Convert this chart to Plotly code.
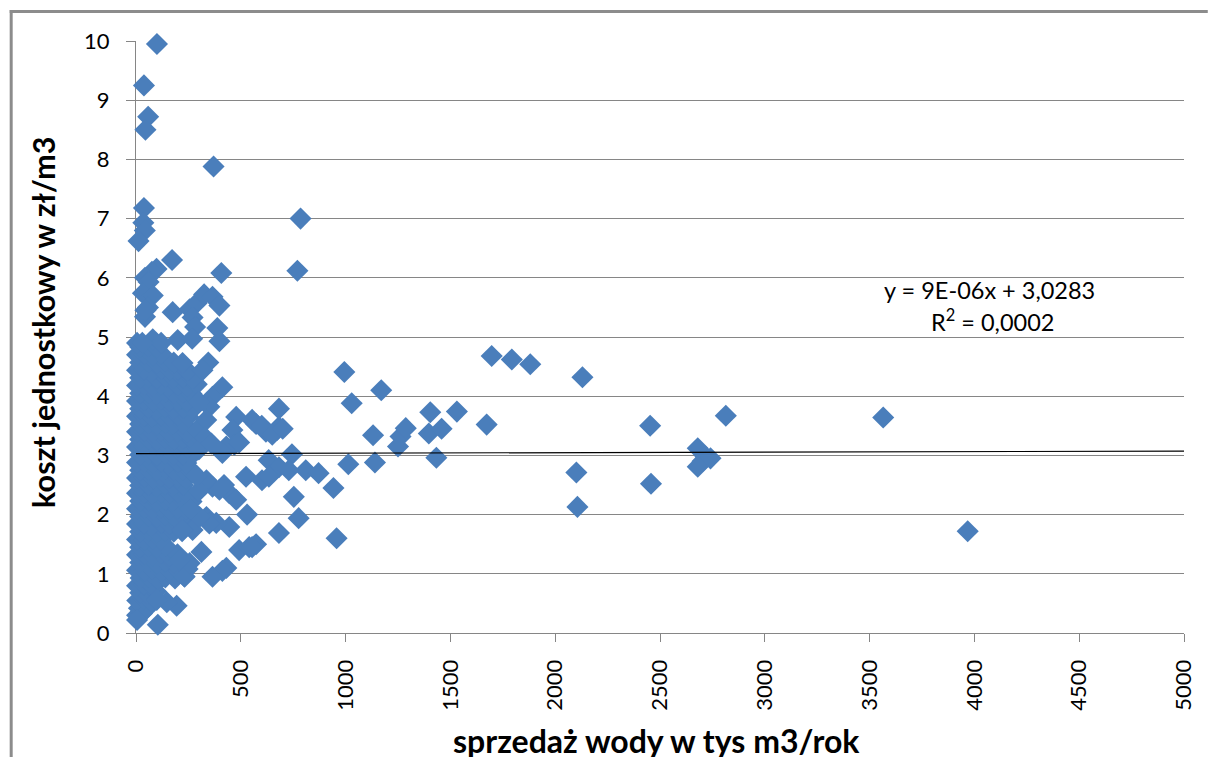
import plotly.graph_objects as go

# ---------------- DATA ----------------
# dense core of the cloud, lower part  (sprzedaż [tys m3/rok], koszt [zł/m3])
punkty_rdzen_dol = [
    (5, 0.30), (28, 0.33), (14, 0.42), (48, 0.40), (6, 0.55), (36, 0.57), (74, 0.53),
    (20, 0.68), (55, 0.66), (96, 0.70), (5, 0.80), (40, 0.82), (82, 0.79),
    (22, 0.93), (60, 0.95), (102, 0.91), (140, 0.94), (186, 0.92), (230, 0.96),
    (5, 1.06), (42, 1.05), (80, 1.08), (122, 1.04), (160, 1.07), (204, 1.05), (246, 1.08),
    (20, 1.19), (62, 1.20), (100, 1.17), (140, 1.21), (182, 1.19), (224, 1.22),
    (5, 1.32), (40, 1.33), (82, 1.31), (120, 1.34), (160, 1.30), (198, 1.33),
    (20, 1.45), (60, 1.46), (100, 1.44), (140, 1.47),
    (5, 1.58), (42, 1.57), (80, 1.59), (120, 1.58),
]
# dense core, middle part
punkty_rdzen_srodek = [
    (20, 1.71), (60, 1.72), (100, 1.70), (140, 1.73), (180, 1.71), (220, 1.72),
    (5, 1.84), (40, 1.85), (80, 1.83), (120, 1.86), (160, 1.84), (200, 1.85), (245, 1.83),
    (20, 1.97), (60, 1.98), (100, 1.96), (140, 1.99), (180, 1.97), (225, 1.98),
    (5, 2.10), (40, 2.11), (80, 2.09), (120, 2.12), (160, 2.10), (200, 2.11), (240, 2.09),
    (20, 2.23), (60, 2.24), (100, 2.22), (140, 2.25), (180, 2.23), (225, 2.24), (265, 2.22),
    (5, 2.36), (40, 2.37), (80, 2.35), (120, 2.38), (160, 2.36), (200, 2.37), (245, 2.35),
    (20, 2.49), (60, 2.50), (100, 2.48), (140, 2.51), (180, 2.49), (225, 2.50),
    (5, 2.62), (40, 2.63), (80, 2.61), (120, 2.64), (160, 2.62), (200, 2.63), (240, 2.61),
    (20, 2.75), (60, 2.76), (100, 2.74), (140, 2.77), (180, 2.75), (225, 2.76), (265, 2.74),
    (5, 2.88), (40, 2.89), (80, 2.87), (120, 2.90), (160, 2.88), (200, 2.89), (240, 2.87),
    (20, 3.01), (60, 3.02), (100, 3.00), (140, 3.03), (180, 3.01), (225, 3.02), (265, 3.00),
]
# dense core, upper part
punkty_rdzen_gora = [
    (5, 3.14), (40, 3.15), (80, 3.13), (120, 3.16), (160, 3.14), (200, 3.15), (245, 3.13), (290, 3.16),
    (20, 3.27), (60, 3.28), (100, 3.26), (140, 3.29), (180, 3.27), (225, 3.28), (270, 3.26), (310, 3.29),
    (5, 3.40), (40, 3.41), (80, 3.39), (120, 3.42), (160, 3.40), (200, 3.41), (245, 3.39), (290, 3.42),
    (20, 3.53), (60, 3.54), (100, 3.52), (140, 3.55), (180, 3.53), (225, 3.54),
    (5, 3.66), (40, 3.67), (80, 3.65), (120, 3.68), (160, 3.66), (200, 3.67), (250, 3.65),
    (20, 3.79), (60, 3.80), (100, 3.78), (140, 3.81), (180, 3.79), (225, 3.80), (270, 3.78),
    (5, 3.92), (40, 3.93), (80, 3.91), (120, 3.94), (160, 3.92), (200, 3.93), (245, 3.91), (290, 3.94),
    (20, 4.05), (60, 4.06), (100, 4.04), (140, 4.07), (180, 4.05), (225, 4.06), (265, 4.04),
    (5, 4.18), (40, 4.19), (80, 4.17), (120, 4.20), (160, 4.18), (200, 4.19), (245, 4.17), (290, 4.20),
    (20, 4.31), (60, 4.32), (100, 4.30), (140, 4.33), (180, 4.31), (225, 4.32), (270, 4.30),
    (5, 4.44), (40, 4.45), (80, 4.43), (120, 4.46), (160, 4.44), (200, 4.45), (245, 4.43),
    (20, 4.57), (60, 4.58), (100, 4.56), (140, 4.59), (180, 4.57),
    (5, 4.70), (40, 4.71), (80, 4.69), (120, 4.72),
    (20, 4.83), (60, 4.84), (100, 4.82),
]
# points scattered around the core (up to ~1000)
punkty_rozproszone = [
    (222, 4.56), (345, 4.57), (317, 4.44), (412, 4.15), (365, 3.99), (350, 3.82), (335, 3.60),
    (300, 3.90), (478, 3.65), (460, 3.43), (554, 3.60), (573, 3.53), (620, 3.40), (682, 3.48),
    (682, 3.79), (673, 3.43), (431, 3.15), (469, 3.18), (412, 3.04), (492, 3.22), (600, 3.50),
    (650, 3.35), (700, 3.45), (633, 2.92), (744, 3.02), (682, 2.80), (810, 2.75), (871, 2.70),
    (525, 2.64), (601, 2.58), (634, 2.64), (729, 2.75), (942, 2.45), (753, 2.30), (776, 1.94),
    (530, 2.00), (445, 1.79), (682, 1.69), (492, 1.40), (540, 1.45), (573, 1.50), (554, 1.45),
    (312, 1.37), (431, 1.10), (412, 1.05), (365, 0.95), (365, 2.47), (445, 2.36), (398, 2.42),
    (336, 2.58), (478, 2.25), (336, 1.96), (270, 1.74), (222, 1.74), (383, 1.86), (350, 1.85),
    (303, 1.96), (232, 0.95), (256, 1.18), (208, 1.23), (194, 0.46), (147, 0.52), (99, 0.56),
    (104, 0.14), (5, 0.22), (300, 2.40), (420, 2.50), (260, 2.10), (290, 2.65), (300, 3.10),
    (330, 3.30), (360, 3.20),
]
# upper tail (high unit costs)
punkty_gorne = [
    (100, 9.95), (38, 9.25), (58, 8.72), (45, 8.50), (38, 7.18), (35, 6.93), (42, 6.80),
    (12, 6.62), (370, 7.88), (785, 7.00), (770, 6.12), (172, 6.30), (407, 6.08), (98, 6.15),
    (76, 6.10), (43, 6.00), (60, 5.93), (33, 5.74), (80, 5.70), (57, 5.50), (43, 5.34),
    (45, 5.45), (175, 5.42), (256, 5.47), (289, 5.57), (325, 5.72), (365, 5.68), (398, 5.53),
    (270, 5.33), (282, 5.17), (388, 5.15), (398, 4.93), (199, 4.95), (268, 4.97), (80, 4.96),
    (5, 4.90), (120, 4.90), (30, 4.90),
]
# large suppliers (far right)
punkty_odlegle = [
    (994, 4.41), (1029, 3.88), (1013, 2.85), (957, 1.60), (1170, 4.10), (1131, 3.34),
    (1140, 2.88), (1250, 3.15), (1262, 3.32), (1287, 3.46), (1404, 3.73), (1397, 3.37),
    (1458, 3.45), (1433, 2.96), (1531, 3.74), (1673, 3.52), (1697, 4.68), (1793, 4.62),
    (1881, 4.54), (2130, 4.32), (2101, 2.71), (2106, 2.13), (2453, 3.50), (2457, 2.52),
    (2680, 3.12), (2703, 2.90), (2717, 2.98), (2741, 2.95), (2680, 2.81), (2814, 3.67),
    (3565, 3.64), (3968, 1.72),
]

# linear trend reported on the chart: y = 9E-06x + 3,0283
trend_nachylenie = 9e-06
trend_wyraz_wolny = 3.0283
trend_x = [0, 5000]

x_ticks = [0, 500, 1000, 1500, 2000, 2500, 3000, 3500, 4000, 4500, 5000]
y_ticks = [0, 1, 2, 3, 4, 5, 6, 7, 8, 9, 10]

tytul_x = "sprzedaż wody w tys m3/rok"
tytul_y = "koszt jednostkowy w zł/m3"
tekst_rownanie = "y = 9E-06x + 3,0283"
tekst_r2 = "R<sup>2</sup> = 0,0002"

# ---------------- FIGURE ----------------
wszystkie = (punkty_rdzen_dol + punkty_rdzen_srodek + punkty_rdzen_gora
             + punkty_rozproszone + punkty_gorne + punkty_odlegle)
xs = [p[0] for p in wszystkie]
ys = [p[1] for p in wszystkie]

W, H = 1208, 757
L, R, T, B = 136, 14, 41, 124
PW, PH = W - L - R, H - T - B


def px_x(px):
    return (px - L) / PW


def px_y(py):
    return (H - B - py) / PH


FONT = "Lato, Calibri, 'Open Sans', sans-serif"
BLUE = "#4A7EBB"
GRAY = "#868686"

fig = go.Figure()
fig.add_trace(go.Scatter(
    x=xs, y=ys, mode="markers",
    marker=dict(symbol="diamond", size=17, color=BLUE, line=dict(width=0)),
    cliponaxis=False, showlegend=False, hoverinfo="x+y",
))
fig.add_trace(go.Scatter(
    x=trend_x, y=[trend_nachylenie * v + trend_wyraz_wolny for v in trend_x],
    mode="lines", line=dict(color="black", width=1.2),
    showlegend=False, hoverinfo="skip",
))

fig.update_layout(
    width=W, height=H, autosize=False,
    margin=dict(l=L, r=R, t=T, b=B, pad=0),
    paper_bgcolor="white", plot_bgcolor="white",
    font=dict(family=FONT, color="black"),
    xaxis=dict(
        range=[0, 5000], tickvals=x_ticks, ticktext=[str(v) for v in x_ticks],
        tickangle=-90, showgrid=False, zeroline=False,
        showline=True, linecolor=GRAY, linewidth=1,
        ticks="outside", ticklen=8, tickcolor=GRAY, tickwidth=1,
        tickfont=dict(family=FONT, size=22, color="black"),
        ticklabelstandoff=9, ticklabeloverflow="allow",
        layer="below traces", fixedrange=True,
    ),
    yaxis=dict(
        range=[0, 10], tickvals=y_ticks, ticktext=[str(v) for v in y_ticks],
        showgrid=True, gridcolor=GRAY, gridwidth=1, zeroline=False,
        showline=True, linecolor=GRAY, linewidth=1,
        ticks="outside", ticklen=9, tickcolor=GRAY, tickwidth=1,
        tickfont=dict(family=FONT, size=22, color="black"),
        ticklabelstandoff=12, layer="below traces", fixedrange=True,
    ),
    annotations=[
        dict(text=tekst_rownanie, xref="paper", yref="paper",
             x=px_x(998), y=px_y(290), xanchor="center", yanchor="middle",
             showarrow=False, font=dict(family=FONT, size=23.5, color="black")),
        dict(text=tekst_r2, xref="paper", yref="paper",
             x=px_x(1001), y=px_y(320), xanchor="center", yanchor="middle",
             showarrow=False, font=dict(family=FONT, size=23.5, color="black")),
        dict(text="<b>" + tytul_x + "</b>", xref="paper", yref="paper",
             x=px_x(661), y=px_y(740), xanchor="center", yanchor="middle",
             showarrow=False, font=dict(family=FONT, size=32, color="black")),
        dict(text="<b>" + tytul_y + "</b>", xref="paper", yref="paper",
             x=px_x(42), y=px_y(322), xanchor="center", yanchor="middle",
             textangle=-90, showarrow=False,
             font=dict(family=FONT, size=30.5, color="black")),
    ],
    shapes=[
        dict(type="line", xref="paper", yref="paper",
             x0=px_x(8.5), x1=px_x(W + 10), y0=px_y(11.5), y1=px_y(11.5),
             line=dict(color="#8C8C8C", width=3), layer="below"),
        dict(type="line", xref="paper", yref="paper",
             x0=px_x(10), x1=px_x(10), y0=px_y(10), y1=px_y(H + 5),
             line=dict(color="#8C8C8C", width=3), layer="below"),
    ],
)

fig.write_html(
    "out.html",
    config={"displayModeBar": False},
    post_script=(
        "document.documentElement.style.margin='0';"
        "document.body.style.margin='0';"
        "document.body.style.overflow='hidden';"
    ),
)
